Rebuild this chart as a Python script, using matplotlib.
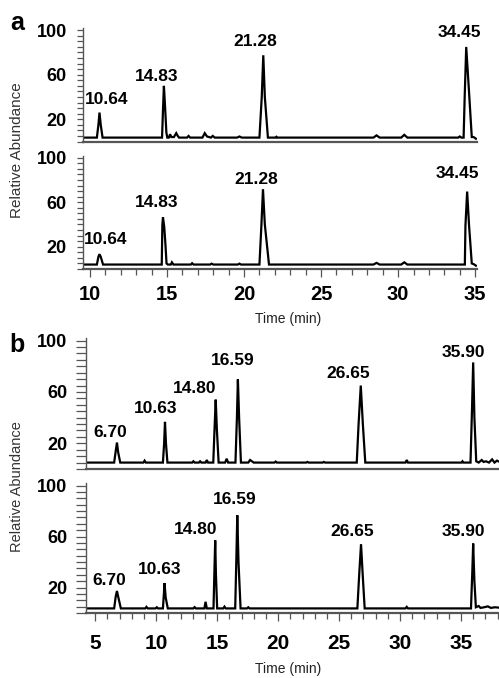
import matplotlib
matplotlib.use("Agg")
import numpy as np
import matplotlib.pyplot as plt
from matplotlib.ticker import MultipleLocator

plt.rcParams['font.family'] = ['Liberation Sans', 'DejaVu Sans']

# ---- data: chromatogram breakpoints (time in min, relative abundance) ----
# panel a, upper trace
a1_time = [9.55, 10.45, 10.55, 10.62, 10.7, 10.82,
           14.68, 14.74, 14.8, 14.88, 14.96, 15.02,
           15.12, 15.2, 15.28, 15.45, 15.6, 15.7, 15.78,
           16.3, 16.4, 16.5, 17.3, 17.45, 17.6, 17.85, 17.97, 18.1,
           19.55, 19.7, 19.85,
           21.0, 21.15, 21.25, 21.35, 21.55, 22.05, 22.1, 22.15,
           28.4, 28.6, 28.8, 30.2, 30.4, 30.6,
           33.9, 34.0, 34.1, 34.25, 34.32, 34.42, 34.6, 34.78, 34.9, 35.05]
a1_abund = [3.5, 3.5, 15, 26, 15, 3.5,
            3.5, 28, 50, 30, 8, 3.5,
            3.5, 6.5, 4, 4, 7.5, 5, 3.5,
            3.5, 5, 3.5, 3.5, 7.5, 4.5, 3.5, 5, 3.5,
            3.5, 4.5, 3.5,
            3.5, 40, 77.5, 40, 3.5, 3.5, 4.2, 3.5,
            3.5, 5.5, 3.5, 3.5, 6, 3.5,
            3.5, 4.5, 3.5, 3.5, 40, 85, 45, 4, 4, 2.5]

# panel a, lower trace
a2_time = [9.55, 10.45, 10.55, 10.62, 10.7, 10.85,
           14.66, 14.7, 14.74, 14.82, 14.9, 14.97, 15.05,
           15.25, 15.32, 15.42, 16.55, 16.63, 16.72,
           17.8, 17.9, 18.0, 19.6, 19.7, 19.8,
           21.0, 21.13, 21.23, 21.35, 21.62,
           28.4, 28.6, 28.8, 30.2, 30.4, 30.6,
           34.33, 34.37, 34.48, 34.6, 34.78, 34.95, 35.05]
a2_abund = [4, 4, 11, 13.3, 11, 4,
            4, 40, 46.5, 38, 22, 5, 4,
            4, 6, 4, 4, 5.2, 4,
            4, 4.8, 4, 4, 4.8, 4,
            4, 40, 71.7, 40, 4,
            4, 5.5, 4, 4, 6, 4,
            4, 39, 69.6, 40, 5, 4, 3]

# panel b, upper trace
b1_time = [4.1, 6.55, 6.68, 6.78, 6.88, 7.05,
           8.95, 9.05, 9.15,
           10.55, 10.65, 10.72, 10.8, 10.92,
           12.95, 13.05, 13.15, 13.5, 13.6, 13.7, 14.05, 14.15, 14.25,
           14.68, 14.8, 14.88, 14.98, 15.12,
           15.65, 15.78, 15.9,
           16.5, 16.62, 16.7, 16.8, 16.95,
           17.55, 17.7, 17.85, 18.0,
           19.7, 19.8, 19.9, 22.3, 22.4, 22.5, 23.65, 23.75, 23.85,
           26.45, 26.6, 26.78, 26.95, 27.15,
           30.45, 30.55, 30.65, 35.05, 35.12, 35.2,
           35.78, 35.9, 36.0, 36.1, 36.25, 36.45, 36.7, 36.85, 37.05,
           37.3, 37.55, 37.75, 37.95, 38.3]
b1_abund = [5, 5, 14, 20.6, 13, 5,
            5, 6.5, 5,
            5, 20, 36.7, 20, 5,
            5, 6, 5, 5, 6, 5, 5, 7, 5,
            5, 35, 54, 30, 5,
            5, 8, 5,
            5, 40, 69.8, 40, 5,
            5, 7, 6, 5,
            5, 5.8, 5, 5, 5.5, 5, 5, 5.5, 5,
            5, 35, 65, 35, 5,
            5, 7, 5, 5, 6, 5,
            5, 45, 83, 40, 6, 5, 7, 5.5, 6,
            5, 7.5, 5, 6.5, 5]

# panel b, lower trace
b2_time = [4.1, 6.55, 6.68, 6.78, 6.9, 7.1,
           9.1, 9.2, 9.3, 9.95, 10.05, 10.15,
           10.55, 10.63, 10.68, 10.78, 10.95,
           13.05, 13.15, 13.25, 13.95, 14.05, 14.15,
           14.7, 14.78, 14.84, 14.9, 15.0,
           15.5, 15.6, 15.7,
           16.48, 16.58, 16.65, 16.75, 16.92,
           17.45, 17.55, 17.65,
           26.5, 26.65, 26.8, 26.95, 27.1,
           30.45, 30.55, 30.65,
           35.82, 35.92, 36.0, 36.1, 36.22, 36.45, 36.6, 36.9, 37.2,
           37.45, 37.8, 38.3]
b2_abund = [3.6, 3.6, 13, 17.3, 12, 3.6,
            3.6, 4.8, 3.6, 3.6, 4.5, 3.6,
            3.6, 15, 23.5, 12, 3.6,
            3.6, 4.6, 3.6, 3.6, 8.8, 3.6,
            3.6, 35, 57, 30, 3.6,
            3.6, 5, 3.6,
            3.6, 45, 76.7, 40, 3.6,
            3.6, 4.5, 3.6,
            3.6, 30, 54, 28, 3.6,
            3.6, 4.8, 3.6,
            3.6, 30, 54.5, 25, 4.5, 5.5, 4, 4.5, 5.2,
            4, 4.5, 4]

a_labels = ['10.64', '14.83', '21.28', '34.45']
b_labels = ['6.70', '10.63', '14.80', '16.59', '26.65', '35.90']

a_xticks = [10, 15, 20, 25, 30, 35]
b_xticks = [5, 10, 15, 20, 25, 30, 35]
y_ticks = [20, 60, 100]

# ---- layout (pixels) ----
W, H = 499, 678
fig = plt.figure(figsize=(W / 100, H / 100), dpi=100)
grey = '#555555'


def add_ax(l, t, r, b):
    return fig.add_axes([l / W, 1 - b / H, (r - l) / W, (b - t) / H])


def style(ax, xlim, xticks, ypad, ylen, xpad=3, xsize=15):
    ax.set_xlim(*xlim)
    ax.set_ylim(0, 102)
    ax.spines['top'].set_visible(False)
    ax.spines['right'].set_visible(False)
    ax.spines['left'].set_color(grey)
    ax.spines['left'].set_linewidth(1.0)
    ax.spines['bottom'].set_color(grey)
    ax.spines['bottom'].set_linewidth(1.6)
    ax.set_yticks(y_ticks, labels=[str(v) for v in y_ticks],
                  fontsize=13, fontweight='bold')
    ax.yaxis.set_minor_locator(MultipleLocator(5))
    ax.tick_params(axis='y', which='both', direction='out', length=ylen,
                   width=0.9, color=grey, pad=ypad)
    if xticks is None:
        ax.tick_params(axis='x', which='both', bottom=False, labelbottom=False)
    else:
        ax.set_xticks(xticks, labels=[str(v) for v in xticks],
                      fontsize=xsize, fontweight='bold')
        ax.xaxis.set_minor_locator(MultipleLocator(1))
        ax.tick_params(axis='x', which='major', length=5.5, width=0.9,
                       color=grey, pad=xpad)
        ax.tick_params(axis='x', which='minor', length=4, width=0.9, color=grey)


def trace(ax, t, y, labels, offsets):
    t = np.array(t)
    y = np.array(y)
    ax.plot(t, y, color='black', lw=1.6, solid_joinstyle='miter')
    for lab, (dx, gap) in zip(labels, offsets):
        m = np.abs(t - float(lab)) < 0.3
        i = np.argmax(np.where(m, y, -1))
        ax.annotate(lab, xy=(t[i], y[i]), xytext=(dx * 0.72, gap * 0.72),
                    textcoords='offset points', ha='center', va='baseline',
                    fontsize=12.5, fontweight='bold')


# panel a
ax_a1 = add_ax(82.7, 28, 476.7, 141.5)
ax_a2 = add_ax(82.7, 155.5, 476.7, 269)
style(ax_a1, (9.53, 35.1), None, 7, 4.5)
style(ax_a2, (9.53, 35.1), a_xticks, 7, 4.5, xpad=6, xsize=14.5)

trace(ax_a1, a1_time, a1_abund, a_labels, [(7, 9), (-7, 5), (-8, 9), (-7, 10)])
trace(ax_a2, a2_time, a2_abund, a_labels, [(6, 10), (-6, 10), (-7, 5), (-10, 14)])

# panel b
ax_b1 = add_ax(85.5, 338, 500, 469)
ax_b2 = add_ax(85.5, 483, 500, 613)
style(ax_b1, (4.2, 38.2), None, 6, 7)
style(ax_b2, (4.2, 38.2), b_xticks, 6, 7, xpad=9.5, xsize=15)

trace(ax_b1, b1_time, b1_abund, b_labels,
      [(-7, 6), (-9, 9), (-21, 7), (-5, 14), (-13, 8), (-10, 5)])
trace(ax_b2, b2_time, b2_abund, b_labels,
      [(-8, 6), (-5, 9), (-20, 6), (-3, 11), (-9, 8), (-10, 8)])

# texts
fig.text(17 / W, 1 - 30 / H, 'a', fontsize=18, fontweight='bold',
         ha='center', va='baseline')
fig.text(17 / W, 1 - 352 / H, 'b', fontsize=18, fontweight='bold',
         ha='center', va='baseline')
fig.text(17.5 / W, 1 - 150 / H, 'Relative Abundance', rotation=90,
         fontsize=11, color='#333333', ha='center', va='center')
fig.text(17.5 / W, 1 - 487 / H, 'Relative Abundance', rotation=90,
         fontsize=10.5, color='#333333', ha='center', va='center')
fig.text(288 / W, 1 - 319 / H, 'Time (min)', fontsize=10, color='#222222',
         ha='center', va='center')
fig.text(288 / W, 1 - 669 / H, 'Time (min)', fontsize=10, color='#222222',
         ha='center', va='center')

fig.savefig('out.png', dpi=100, facecolor='white')
